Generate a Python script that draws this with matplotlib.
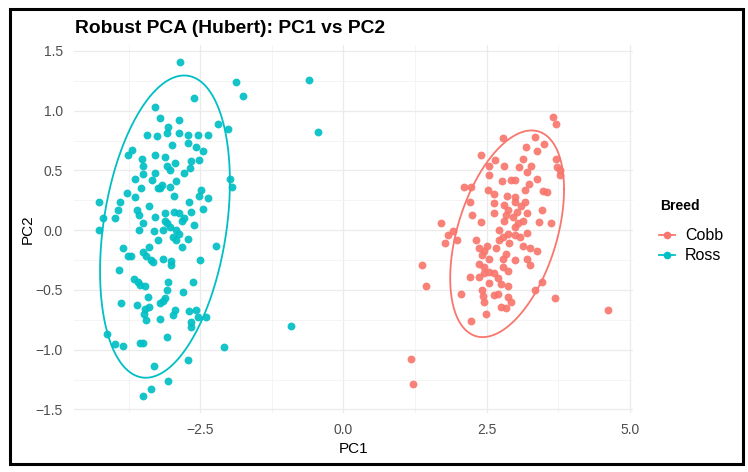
import matplotlib.pyplot as plt
import numpy as np
from matplotlib.lines import Line2D
from matplotlib.patches import Rectangle
from matplotlib.ticker import FuncFormatter, MultipleLocator

plt.rcParams["font.family"] = ["Liberation Sans", "DejaVu Sans"]

# Ross scores (PC1, PC2)
ross_pc1 = [
    -2.85, -1.88, -1.75, -0.60, -0.45, -0.92, -2.61, -3.29, -3.20, -2.87,
    -3.06, -3.43, -3.26, -3.08, -2.87, -2.72, -2.55, -2.36, -2.19, -2.02,
    -2.99, -2.72, -2.57, -2.45, -3.69, -3.77, -3.53, -3.29, -3.12, -3.51,
    -3.08, -2.95, -2.66, -2.53, -2.69, -2.79, -3.04, -3.29, -3.50, -3.65,
    -3.35, -3.17, -3.21, -3.04, -2.92, -2.96, -3.25, -3.54, -3.79, -3.65,
    -2.49, -2.53, -2.36, -2.70, -1.99, -1.94, -4.27, -3.90, -4.21, -4.00,
    -3.94, -3.61, -3.57, -3.40, -3.51, -3.29, -3.12, -3.12, -2.96, -2.87,
    -2.79, -2.83, -3.08, -2.62, -2.66, -2.45, -3.57, -3.31, -3.15, -3.04,
    -2.93, -2.87, -2.98, -2.72, -2.93, -2.83, -4.28, -3.24, -3.40, -3.85,
    -3.50, -3.46, -3.71, -3.77, -3.37, -3.33, -3.16, -3.01, -3.01, -2.51,
    -2.23, -3.92, -3.66, -3.60, -3.56, -3.47, -3.06, -3.08, -2.63, -2.80,
    -3.88, -3.61, -3.42, -3.47, -3.40, -3.16, -3.12, -3.20, -3.49, -3.45,
    -3.20, -2.98, -2.95, -2.70, -2.58, -2.66, -2.66, -2.55, -2.40, -4.13,
    -3.99, -3.85, -3.56, -3.51, -3.09, -2.08, -2.71, -3.31, -3.06, -3.36,
    -3.51,
]
ross_pc2 = [
    1.41, 1.24, 1.12, 1.26, 0.82, -0.80, 1.11, 1.03, 0.94, 0.92,
    0.86, 0.80, 0.79, 0.81, 0.81, 0.80, 0.80, 0.80, 0.89, 0.85,
    0.71, 0.73, 0.70, 0.66, 0.67, 0.63, 0.60, 0.63, 0.61, 0.54,
    0.54, 0.56, 0.58, 0.59, 0.52, 0.48, 0.50, 0.48, 0.47, 0.43,
    0.42, 0.38, 0.35, 0.36, 0.41, 0.29, 0.35, 0.35, 0.31, 0.28,
    0.34, 0.29, 0.27, 0.24, 0.43, 0.36, 0.24, 0.24, 0.10, 0.10,
    0.17, 0.17, 0.13, 0.20, 0.06, 0.11, 0.14, 0.08, 0.15, 0.14,
    0.10, 0.08, 0.06, 0.04, 0.15, 0.18, 0.00, -0.01, 0.00, 0.03,
    0.00, -0.03, -0.06, -0.07, -0.08, -0.14, 0.00, -0.08, -0.14, -0.15,
    -0.18, -0.22, -0.22, -0.22, -0.25, -0.27, -0.24, -0.26, -0.29, -0.25,
    -0.13, -0.33, -0.41, -0.43, -0.46, -0.47, -0.43, -0.50, -0.43, -0.52,
    -0.61, -0.63, -0.56, -0.66, -0.64, -0.59, -0.57, -0.61, -0.70, -0.75,
    -0.74, -0.71, -0.67, -0.68, -0.67, -0.77, -0.81, -0.73, -0.73, -0.87,
    -0.95, -0.97, -0.94, -0.94, -0.89, -0.98, -1.09, -1.14, -1.26, -1.33,
    -1.39,
]

# Cobb scores (PC1, PC2)
cobb_pc1 = [
    3.66, 3.72, 2.79, 3.34, 3.19, 3.50, 3.38, 2.40, 2.65, 3.13,
    3.72, 2.54, 2.81, 3.07, 3.27, 3.21, 3.74, 3.78, 3.78, 2.54,
    2.92, 3.00, 2.77, 3.38, 3.24, 2.10, 2.23, 2.53, 3.17, 3.49,
    3.55, 3.00, 2.86, 2.63, 2.21, 2.63, 3.00, 3.17, 2.80, 3.11,
    2.87, 3.03, 3.21, 3.47, 2.25, 2.63, 2.84, 2.97, 3.13, 3.05,
    3.42, 3.63, 1.70, 2.41, 2.80, 1.91, 1.83, 2.71, 2.88, 2.99,
    2.79, 3.21, 1.77, 1.99, 2.32, 2.71, 2.90, 3.13, 3.26, 3.38,
    2.46, 2.42, 2.54, 2.79, 3.00, 3.21, 3.26, 2.37, 1.37, 2.46,
    2.79, 2.87, 2.54, 2.37, 2.63, 2.21, 2.70, 2.46, 3.47, 1.44,
    2.54, 2.76, 2.88, 2.42, 2.06, 3.35, 2.43, 2.70, 2.63, 2.88,
    3.69, 2.46, 2.92, 2.76, 2.84, 2.49, 2.22, 4.62, 1.18, 1.22,
    2.67, 2.84, 2.37, 2.50, 3.09, 3.00,
]
cobb_pc2 = [
    0.95, 0.89, 0.77, 0.78, 0.70, 0.72, 0.66, 0.63, 0.59, 0.60,
    0.60, 0.54, 0.54, 0.53, 0.54, 0.49, 0.53, 0.50, 0.46, 0.46,
    0.42, 0.42, 0.41, 0.43, 0.39, 0.36, 0.36, 0.34, 0.34, 0.33,
    0.32, 0.28, 0.29, 0.30, 0.24, 0.23, 0.24, 0.24, 0.21, 0.20,
    0.17, 0.15, 0.14, 0.17, 0.13, 0.14, 0.13, 0.11, 0.08, 0.06,
    0.07, 0.06, 0.06, 0.07, 0.08, -0.01, -0.04, 0.00, -0.03, -0.04,
    -0.06, -0.02, -0.11, -0.08, -0.08, -0.08, -0.11, -0.13, -0.15, -0.17,
    -0.17, -0.21, -0.24, -0.24, -0.25, -0.24, -0.29, -0.28, -0.29, -0.31,
    -0.31, -0.34, -0.35, -0.39, -0.36, -0.39, -0.40, -0.36, -0.43, -0.47,
    -0.44, -0.45, -0.47, -0.50, -0.53, -0.50, -0.55, -0.53, -0.54, -0.56,
    -0.57, -0.60, -0.60, -0.64, -0.65, -0.70, -0.76, -0.67, -1.08, -1.29,
    -0.15, -0.20, -0.15, -0.13, -0.06, 0.03,
]

# 95% ellipses: centre and shape matrix (sxx, syy, sxy)
ross_ellipse = {"center": (-3.12, 0.03), "sxx": 1.288, "syy": 1.600, "sxy": 0.424}
cobb_ellipse = {"center": (2.86, -0.03), "sxx": 0.990, "syy": 0.748, "sxy": 0.37}

breeds = ["Cobb", "Ross"]
colors = {"Cobb": "#F8766D", "Ross": "#00BFC4"}


def ellipse_path(e, n=300):
    t = np.linspace(0, 2 * np.pi, n)
    cov = np.array([[e["sxx"], e["sxy"]], [e["sxy"], e["syy"]]])
    chol = np.linalg.cholesky(cov)
    pts = chol @ np.vstack([np.cos(t), np.sin(t)])
    return pts[0] + e["center"][0], pts[1] + e["center"][1]


fig = plt.figure(figsize=(7.48, 4.72), dpi=100)
ax = fig.add_axes([74 / 748, 1 - 413 / 472, (633 - 74) / 748, (413 - 45) / 472])

series = {
    "Cobb": (cobb_pc1, cobb_pc2, cobb_ellipse),
    "Ross": (ross_pc1, ross_pc2, ross_ellipse),
}
for name in breeds:
    x, y, ell = series[name]
    ax.scatter(x, y, s=32, color=colors[name], alpha=0.92, linewidths=0, zorder=3)
    ex, ey = ellipse_path(ell)
    ax.plot(ex, ey, color=colors[name], lw=1.3, zorder=2)

ax.set_xlim(-4.71, 5.06)
ax.set_ylim(-1.53, 1.55)

# ggplot theme_minimal look
for side in ax.spines.values():
    side.set_visible(False)
ax.xaxis.set_major_locator(MultipleLocator(2.5))
ax.xaxis.set_minor_locator(MultipleLocator(1.25))
ax.yaxis.set_major_locator(MultipleLocator(0.5))
ax.yaxis.set_minor_locator(MultipleLocator(0.25))
ax.grid(which="major", color="#EBEBEB", lw=0.9, zorder=0)
ax.grid(which="minor", color="#F2F2F2", lw=0.6, zorder=0)
ax.set_axisbelow(True)
ax.tick_params(which="both", length=0, labelsize=10, labelcolor="#4D4D4D")
ax.tick_params(axis="x", pad=7)
ax.tick_params(axis="y", pad=8)
fmt = FuncFormatter(lambda v, _: f"{v:.1f}".replace("-", "\u2212"))
ax.xaxis.set_major_formatter(fmt)
ax.yaxis.set_major_formatter(fmt)
ax.set_xlabel("PC1", fontsize=11, labelpad=4)
ax.set_ylabel("PC2", fontsize=11, labelpad=0.5)

fig.text(75 / 748, 1 - 33 / 472, "Robust PCA (Hubert): PC1 vs PC2",
         fontsize=13.9, fontweight="bold", va="baseline", ha="left")

# legend: title as its own text, entries below it
fig.text(660 / 748, 1 - 210.5 / 472, "Breed", fontsize=10, fontweight="bold",
         va="baseline", ha="left")
handles = [
    Line2D([0], [0], color=colors[b], lw=1.3, marker="o", markersize=5.5,
           markeredgewidth=0, label=b)
    for b in breeds
]
leg = fig.legend(handles=handles, loc="upper left",
                 bbox_to_anchor=(645 / 748, 1 - 214 / 472), frameon=False,
                 fontsize=11.5, handlelength=1.0, handletextpad=0.6,
                 labelspacing=0.3)

# outer black frame around the whole picture
fig.patches.append(Rectangle((10 / 748, 8 / 472), 733 / 748, 455 / 472,
                             transform=fig.transFigure, fill=False,
                             edgecolor="black", lw=2.2))

fig.savefig("out.png", dpi=100)
